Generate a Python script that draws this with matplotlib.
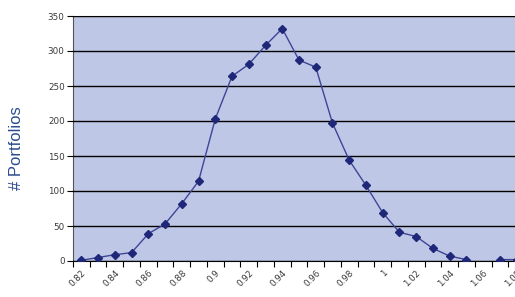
import numpy as np
import matplotlib
matplotlib.use('Agg')
import matplotlib.pyplot as plt

# categories 0.82 .. 1.08 in 0.01 steps (Excel-style category axis)
cats = ['0.82', '0.83', '0.84', '0.85', '0.86', '0.87', '0.88', '0.89', '0.9',
        '0.91', '0.92', '0.93', '0.94', '0.95', '0.96', '0.97', '0.98', '0.99',
        '1', '1.01', '1.02', '1.03', '1.04', '1.05', '1.06', '1.07', '1.08']
counts = [1, 5, 9, 12, 39, 53, 82, 114, 203,
          264, 281, 308, 332, 287, 277, 197, 144, 108,
          69, 41, 35, 18, 7, 2, np.nan, 2, 2]
yticks = [0, 50, 100, 150, 200, 250, 300, 350]

plt.rcParams['font.family'] = ['DejaVu Sans']

fig = plt.figure(figsize=(5.15, 2.97), dpi=100)
ax = fig.add_axes([73/515, 36/297, 452/515, 245/297])
ax.set_facecolor('#bfc7e6')

x = np.arange(len(cats))
ax.plot(x, counts, color='#3d4598', lw=1.0, marker='D', ms=4.2,
        mfc='#1f2878', mec='#1f2878', zorder=3)

ax.set_xlim(-0.5, len(cats) - 0.5)
ax.set_ylim(0, 350)
ax.set_yticks(yticks)
ax.set_yticklabels([str(v) for v in yticks], fontsize=6.3, color='#3a3a3a')
ax.yaxis.grid(True, color='black', lw=1.0)
ax.set_axisbelow(False)

# ticks at category boundaries, labels on every other category
ax.set_xticks(np.arange(len(cats) + 1) - 0.5)
ax.set_xticklabels([])
ax.set_xticks(x[::2], minor=True)
ax.set_xticklabels(cats[::2], minor=True, rotation=45, ha='right',
                   rotation_mode='anchor', fontsize=6.3, color='#3a3a3a')
ax.tick_params(axis='x', which='major', length=4, color='black', direction='out')
ax.tick_params(axis='x', which='minor', length=0, pad=5)
ax.tick_params(axis='y', length=4, color='black', pad=2)

for s in ['top', 'right']:
    ax.spines[s].set_color('#8c8c8c')
ax.spines['left'].set_color('#555555')
ax.spines['bottom'].set_color('black')

fig.text(17/515, 0.5, '# Portfolios', rotation=90, ha='center', va='center',
         fontsize=12, color='#2b4c8e', family='Liberation Sans')

fig.savefig('out.png', dpi=100)
